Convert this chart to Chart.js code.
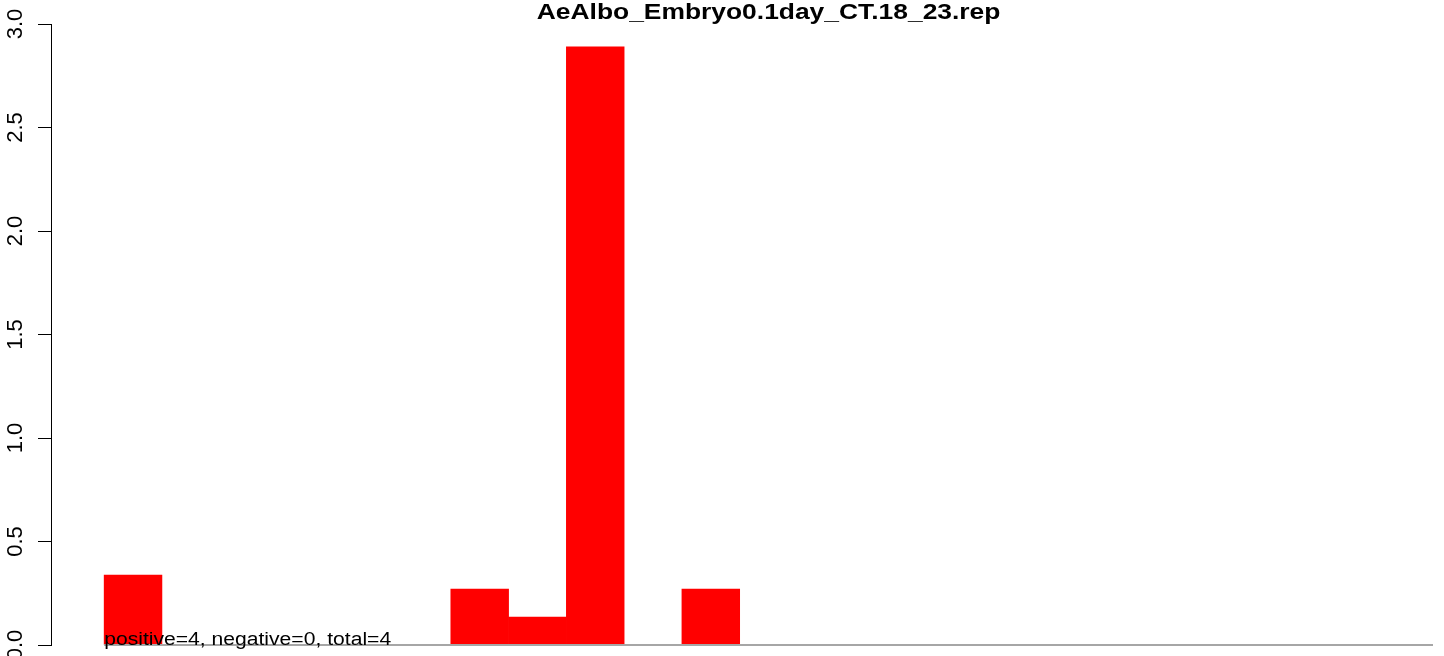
<!DOCTYPE html>
<html>
<head>
<meta charset="utf-8">
<script src="https://cdn.jsdelivr.net/npm/chart.js@4/dist/chart.umd.min.js"></script>
<style>
  html, body { margin: 0; padding: 0; background: #fff; }
  #wrap { width: 1444px; height: 656px; }
</style>
</head>
<body>
<div id="wrap"><canvas id="repChart" width="1444" height="656"></canvas></div>
<script>
// data
const chartTitle = 'AeAlbo_Embryo0.1day_CT.18_23.rep';
const binValues = [0.338, 0, 0, 0, 0, 0, 0.27, 0.135, 2.89, 0, 0.27, 0, 0, 0, 0, 0, 0, 0, 0, 0, 0, 0, 0];
const yTicks = [0, 0.5, 1, 1.5, 2, 2.5, 3];
const yTickLabels = ['0.0', '0.5', '1.0', '1.5', '2.0', '2.5', '3.0'];
const summaryText = 'positive=4, negative=0, total=4';

const FONT = '"Liberation Sans", Arial, Helvetica, sans-serif';

// bin i is centred at i + 0.5 so each bar fills [i, i+1]
const barData = binValues.map((v, i) => ({ x: i + 0.5, y: v }));

// R-style extras: rotated y labels, title, baseline and the text under the bars
const rDecor = {
    id: 'rDecor',
    afterDatasetsDraw(chart) {
        const ctx = chart.ctx;
        const xs = chart.scales.x;
        const ys = chart.scales.y;
        const x0 = xs.getPixelForValue(0);
        const x1 = xs.getPixelForValue(binValues.length);
        const y0 = ys.getPixelForValue(0);

        ctx.save();
        // grey baseline under the bins
        ctx.strokeStyle = '#a6a6a6';
        ctx.lineWidth = 2;
        ctx.beginPath();
        ctx.moveTo(x0, y0);
        ctx.lineTo(x1, y0);
        ctx.stroke();

        // summary text sits on the baseline
        ctx.fillStyle = '#000';
        ctx.font = '17.6px ' + FONT;
        ctx.textAlign = 'left';
        ctx.textBaseline = 'alphabetic';
        ctx.save();
        ctx.translate(x0, y0);
        ctx.scale(1.2, 1);
        ctx.fillText(summaryText, 0, 0);
        ctx.restore();

        // title, centred over the bins
        ctx.font = 'bold 22px ' + FONT;
        ctx.textAlign = 'center';
        ctx.save();
        ctx.translate(xs.getPixelForValue(binValues.length / 2), 18.5);
        ctx.scale(1.2, 1);
        ctx.fillText(chartTitle, 0, 0);
        ctx.restore();

        // y tick labels, rotated like las=0 in R
        ctx.font = '22px ' + FONT;
        yTicks.forEach((t, i) => {
            ctx.save();
            ctx.translate(22, ys.getPixelForValue(t));
            ctx.rotate(-Math.PI / 2);
            ctx.fillText(yTickLabels[i], 0, 0);
            ctx.restore();
        });
        ctx.restore();
    }
};

new Chart(document.getElementById('repChart'), {
    type: 'bar',
    data: {
        datasets: [{
            data: barData,
            backgroundColor: '#ff0000',
            borderWidth: 0,
            barPercentage: 1,
            categoryPercentage: 1,
        }]
    },
    options: {
        responsive: false,
        animation: false,
        layout: { padding: { top: 24, bottom: 11, right: 11, left: 0 } },
        plugins: {
            legend: { display: false },
            title: { display: false },
            tooltip: { enabled: false },
        },
        scales: {
            x: {
                type: 'linear',
                display: false,
                offset: false,
                min: -0.92,
                max: binValues.length,
            },
            y: {
                min: 0,
                max: 3,
                afterFit(scale) { scale.width = 51; },
                afterBuildTicks(scale) { scale.ticks = yTicks.map(v => ({ value: v })); },
                ticks: { display: false },
                grid: {
                    drawOnChartArea: false,
                    drawTicks: true,
                    tickLength: 13,
                    color: '#000',
                    lineWidth: 1,
                },
                border: { display: true, color: '#000', width: 1 },
            }
        }
    },
    plugins: [rDecor]
});
</script>
</body>
</html>
